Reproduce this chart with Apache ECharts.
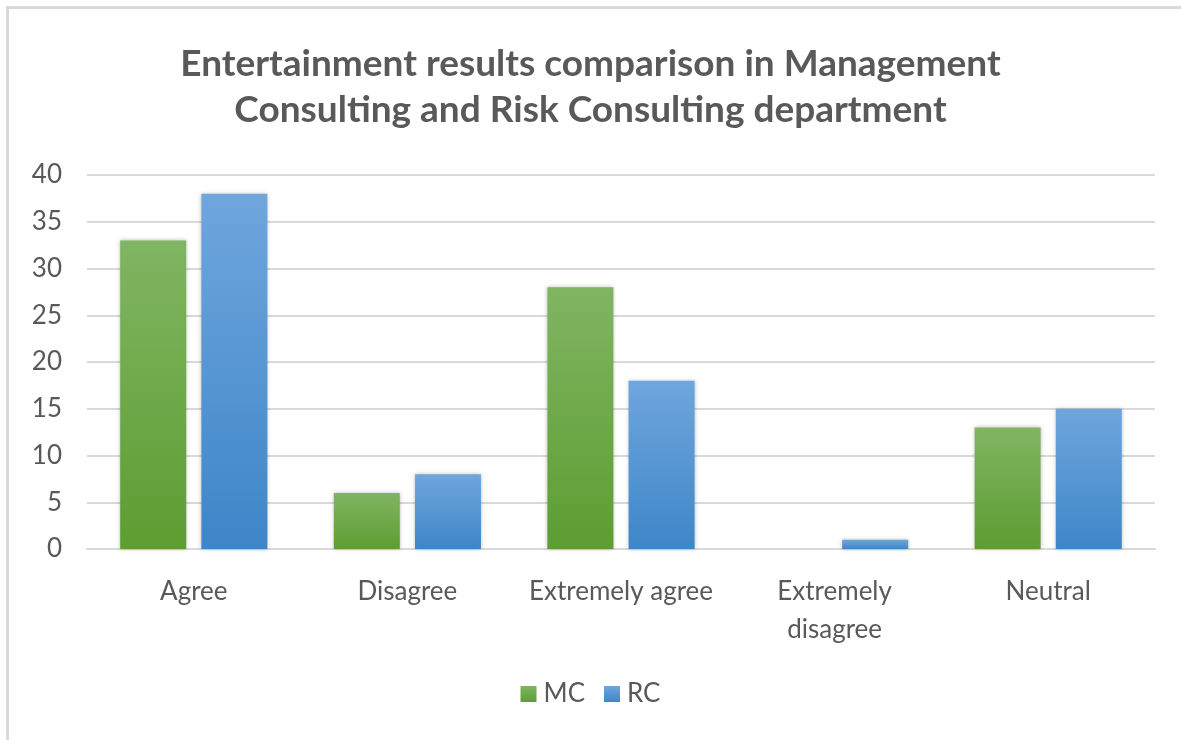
<!DOCTYPE html>
<html>
<head>
<meta charset="utf-8">
<script src="https://cdn.jsdelivr.net/npm/echarts@6/dist/echarts.min.js"></script>
<style>
  html, body { margin: 0; padding: 0; background: #fff; }
  #frame {
    position: absolute; left: 6px; top: 6px; width: 1180px; height: 740px;
    border-top: 3px solid #d9d9d9; border-left: 3px solid #d9d9d9;
  }
  #chart { position: absolute; left: 0; top: 0; width: 1181px; height: 740px; }
</style>
</head>
<body>
<div id="frame"></div>
<div id="chart"></div>
<script>
const categories = ['Agree', 'Disagree', 'Extremely agree', 'Extremely\ndisagree', 'Neutral'];
const mcValues = [33, 6, 28, 0, 13];
const rcValues = [38, 8, 18, 1, 15];
const yTicks = { min: 0, max: 40, interval: 5 };

const chart = echarts.init(document.getElementById('chart'), null, { renderer: 'canvas' });
const font = 'Lato, "Open Sans", sans-serif';
const textColor = '#595959';

function grad(top, bottom) {
  return new echarts.graphic.LinearGradient(0, 0, 0, 1, [
    { offset: 0, color: top }, { offset: 1, color: bottom }
  ]);
}

chart.setOption({
  animation: false,
  title: {
    text: 'Entertainment results comparison in Management\nConsulting and Risk Consulting department',
    left: 'center', top: 36,
    textStyle: { fontFamily: font, fontSize: 37, fontWeight: 'bold', color: textColor, lineHeight: 46 }
  },
  legend: {
    bottom: 28, left: 'center',
    itemWidth: 16, itemHeight: 16, itemGap: 19,
    icon: 'rect',
    textStyle: { fontFamily: font, fontSize: 26, color: textColor, padding: [0, 0, 0, 2] },
    data: ['MC', 'RC']
  },
  grid: { left: 87, right: 26, top: 175, bottom: 191, containLabel: false },
  xAxis: {
    type: 'category', data: categories,
    axisLine: { lineStyle: { color: '#d9d9d9', width: 2 } },
    axisTick: { show: false },
    axisLabel: { interval: 0, fontFamily: font, fontSize: 26, color: textColor, margin: 24, lineHeight: 38 }
  },
  yAxis: {
    type: 'value', min: yTicks.min, max: yTicks.max, interval: yTicks.interval,
    axisLine: { show: false }, axisTick: { show: false },
    splitLine: { lineStyle: { color: '#d9d9d9', width: 2 } },
    axisLabel: { fontFamily: font, fontSize: 26, color: textColor, margin: 25 }
  },
  series: [
    {
      name: 'MC', type: 'bar', data: mcValues, barWidth: 66, barGap: '23%',
      itemStyle: { color: grad('#80b562', '#5d9d31'), shadowColor: 'rgba(0,0,0,0.25)', shadowBlur: 4 }
    },
    {
      name: 'RC', type: 'bar', data: rcValues, barWidth: 66,
      itemStyle: { color: grad('#6fa6dd', '#3e86c8'), shadowColor: 'rgba(0,0,0,0.25)', shadowBlur: 4 }
    }
  ]
});
</script>
</body>
</html>
